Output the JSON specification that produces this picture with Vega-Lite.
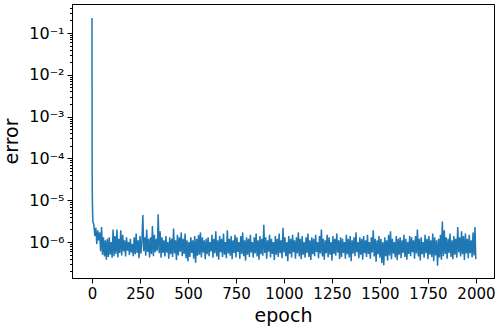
{
  "$schema": "https://vega.github.io/schema/vega-lite/v6.json",
  "autosize": {"type": "none"},
  "width": 422,
  "height": 274,
  "padding": {"left": 72, "top": 4, "right": 4, "bottom": 51},
  "background": "white",
  "config": {
    "font": "DejaVu Sans",
    "view": {"stroke": "black", "strokeWidth": 1},
    "axis": {"grid": false, "domainColor": "black", "tickColor": "black", "labelColor": "black", "titleColor": "black", "labelFont": "DejaVu Sans", "titleFont": "DejaVu Sans", "titleFontWeight": "normal"}
  },
  "data": {"values": [
    {"epoch":0,"error":0.23},{"epoch":1,"error":5e-5},{"epoch":2,"error":1.2e-5},{"epoch":3,"error":6e-6},{"epoch":4,"error":4e-6},{"epoch":5,"error":3e-6},
    {"epoch":10,"error":2.6e-6},{"epoch":15,"error":1.4e-6},{"epoch":20,"error":2.2e-6},{"epoch":25,"error":9e-7},{"epoch":30,"error":1.9e-6},{"epoch":35,"error":1.1e-6},{"epoch":40,"error":1.7e-6},{"epoch":45,"error":6e-7},{"epoch":50,"error":2.3e-6},{"epoch":55,"error":5e-7},
    {"epoch":60,"error":1.3e-6},{"epoch":65,"error":4.5e-7},{"epoch":70,"error":1.1e-6},{"epoch":75,"error":3.8e-7},{"epoch":80,"error":1.2e-6},{"epoch":85,"error":4.4e-7},{"epoch":90,"error":1.3e-6},{"epoch":95,"error":5e-7},{"epoch":100,"error":1.0e-6},{"epoch":105,"error":4.2e-7},
    {"epoch":110,"error":2.0e-6},{"epoch":115,"error":4.6e-7},{"epoch":120,"error":1.4e-6},{"epoch":125,"error":5.2e-7},{"epoch":130,"error":2.0e-6},{"epoch":135,"error":4.3e-7},{"epoch":140,"error":1.2e-6},{"epoch":145,"error":5.5e-7},{"epoch":150,"error":1.9e-6},{"epoch":155,"error":4.8e-7},
    {"epoch":160,"error":1.5e-6},{"epoch":165,"error":6e-7},{"epoch":170,"error":1.1e-6},{"epoch":175,"error":4.5e-7},{"epoch":180,"error":1.3e-6},{"epoch":185,"error":6.2e-7},{"epoch":190,"error":1.0e-6},{"epoch":195,"error":4.9e-7},{"epoch":200,"error":1.2e-6},{"epoch":205,"error":5.6e-7},
    {"epoch":210,"error":9e-7},{"epoch":215,"error":4.6e-7},{"epoch":220,"error":1.3e-6},{"epoch":225,"error":5.1e-7},{"epoch":230,"error":1.6e-6},{"epoch":235,"error":5.5e-7},{"epoch":240,"error":1.1e-6},{"epoch":245,"error":4.1e-7},{"epoch":250,"error":1.4e-6},{"epoch":255,"error":5.3e-7},
    {"epoch":260,"error":1.0e-6},{"epoch":265,"error":4.4e-6},{"epoch":270,"error":6e-7},{"epoch":275,"error":1.3e-6},{"epoch":280,"error":4.7e-7},{"epoch":285,"error":2.0e-6},{"epoch":290,"error":5.8e-7},{"epoch":295,"error":1.2e-6},{"epoch":300,"error":4.3e-7},{"epoch":305,"error":1.3e-6},
    {"epoch":310,"error":5.2e-7},{"epoch":315,"error":2.4e-6},{"epoch":320,"error":4.6e-7},{"epoch":325,"error":1.5e-6},{"epoch":330,"error":5.7e-7},{"epoch":335,"error":1.2e-6},{"epoch":340,"error":6.2e-7},{"epoch":345,"error":4.6e-6},{"epoch":350,"error":5.4e-7},{"epoch":355,"error":1.8e-6},
    {"epoch":360,"error":4.2e-7},{"epoch":365,"error":1.3e-6},{"epoch":370,"error":5.5e-7},{"epoch":375,"error":1.1e-6},{"epoch":380,"error":4.5e-7},{"epoch":385,"error":1.4e-6},{"epoch":390,"error":5.6e-7},{"epoch":395,"error":1.0e-6},{"epoch":400,"error":4.0e-7},{"epoch":405,"error":1.3e-6},
    {"epoch":410,"error":5.1e-7},{"epoch":415,"error":1.2e-6},{"epoch":420,"error":4.4e-7},{"epoch":425,"error":2.1e-6},{"epoch":430,"error":5.3e-7},{"epoch":435,"error":1.1e-6},{"epoch":440,"error":3.7e-7},{"epoch":445,"error":1.5e-6},{"epoch":450,"error":4.8e-7},{"epoch":455,"error":1.3e-6},
    {"epoch":460,"error":5.9e-7},{"epoch":465,"error":1.7e-6},{"epoch":470,"error":4.6e-7},{"epoch":475,"error":1.2e-6},{"epoch":480,"error":5.2e-7},{"epoch":485,"error":1.6e-6},{"epoch":490,"error":4.1e-7},{"epoch":495,"error":1.1e-6},{"epoch":500,"error":3.5e-7},{"epoch":505,"error":1.0e-6},
    {"epoch":510,"error":4.4e-7},{"epoch":515,"error":1.3e-6},{"epoch":520,"error":5.5e-7},{"epoch":525,"error":1.1e-6},{"epoch":530,"error":4.0e-7},{"epoch":535,"error":1.4e-6},{"epoch":540,"error":3.2e-7},{"epoch":545,"error":1.2e-6},{"epoch":550,"error":4.7e-7},{"epoch":555,"error":1.5e-6},
    {"epoch":560,"error":5.0e-7},{"epoch":565,"error":1.7e-6},{"epoch":570,"error":4.3e-7},{"epoch":575,"error":1.3e-6},{"epoch":580,"error":5.6e-7},{"epoch":585,"error":1.1e-6},{"epoch":590,"error":3.9e-7},{"epoch":595,"error":1.2e-6},
    {"epoch":600,"error":5.1e-7},{"epoch":605,"error":1.3e-6},{"epoch":610,"error":4.6e-7},{"epoch":615,"error":1.0e-6},{"epoch":620,"error":6.0e-7},{"epoch":625,"error":1.5e-6},{"epoch":630,"error":4.2e-7},{"epoch":635,"error":1.2e-6},{"epoch":640,"error":5.4e-7},{"epoch":645,"error":1.8e-6},
    {"epoch":650,"error":4.5e-7},{"epoch":655,"error":1.1e-6},{"epoch":660,"error":3.8e-7},{"epoch":665,"error":1.4e-6},{"epoch":670,"error":5.7e-7},{"epoch":675,"error":1.2e-6},{"epoch":680,"error":4.4e-7},{"epoch":685,"error":1.6e-6},{"epoch":690,"error":5.0e-7},{"epoch":695,"error":1.0e-6},
    {"epoch":700,"error":4.1e-7},{"epoch":705,"error":1.9e-6},{"epoch":710,"error":5.3e-7},{"epoch":715,"error":1.2e-6},{"epoch":720,"error":4.7e-7},{"epoch":725,"error":1.4e-6},{"epoch":730,"error":3.9e-7},{"epoch":735,"error":1.1e-6},{"epoch":740,"error":5.5e-7},{"epoch":745,"error":1.5e-6},
    {"epoch":750,"error":4.3e-7},{"epoch":755,"error":1.3e-6},{"epoch":760,"error":5.8e-7},{"epoch":765,"error":1.0e-6},{"epoch":770,"error":4.0e-7},{"epoch":775,"error":1.4e-6},{"epoch":780,"error":5.2e-7},{"epoch":785,"error":1.7e-6},{"epoch":790,"error":4.6e-7},{"epoch":795,"error":1.1e-6},
    {"epoch":800,"error":3.6e-7},{"epoch":805,"error":1.3e-6},{"epoch":810,"error":5.0e-7},{"epoch":815,"error":1.2e-6},{"epoch":820,"error":4.4e-7},{"epoch":825,"error":1.5e-6},{"epoch":830,"error":5.6e-7},{"epoch":835,"error":1.0e-6},{"epoch":840,"error":4.2e-7},{"epoch":845,"error":1.3e-6},
    {"epoch":850,"error":5.3e-7},{"epoch":855,"error":1.6e-6},{"epoch":860,"error":4.5e-7},{"epoch":865,"error":1.1e-6},{"epoch":870,"error":3.8e-7},{"epoch":875,"error":1.4e-6},{"epoch":880,"error":5.1e-7},{"epoch":885,"error":1.2e-6},{"epoch":890,"error":4.7e-7},{"epoch":895,"error":2.6e-6},
    {"epoch":900,"error":5.5e-7},{"epoch":905,"error":1.3e-6},{"epoch":910,"error":4.0e-7},{"epoch":915,"error":1.1e-6},{"epoch":920,"error":5.9e-7},{"epoch":925,"error":1.5e-6},{"epoch":930,"error":4.3e-7},{"epoch":935,"error":1.2e-6},{"epoch":940,"error":5.2e-7},{"epoch":945,"error":1.0e-6},
    {"epoch":950,"error":3.7e-7},{"epoch":955,"error":1.4e-6},{"epoch":960,"error":5.0e-7},{"epoch":965,"error":1.2e-6},{"epoch":970,"error":4.4e-7},{"epoch":975,"error":1.6e-6},{"epoch":980,"error":5.4e-7},{"epoch":985,"error":1.1e-6},{"epoch":990,"error":4.1e-7},{"epoch":995,"error":2.2e-6},
    {"epoch":1000,"error":5.6e-7},{"epoch":1005,"error":1.3e-6},{"epoch":1010,"error":4.6e-7},{"epoch":1015,"error":1.0e-6},{"epoch":1020,"error":3.5e-7},{"epoch":1025,"error":1.4e-6},{"epoch":1030,"error":5.2e-7},{"epoch":1035,"error":1.2e-6},{"epoch":1040,"error":4.3e-7},{"epoch":1045,"error":1.5e-6},
    {"epoch":1050,"error":5.7e-7},{"epoch":1055,"error":1.1e-6},{"epoch":1060,"error":4.0e-7},{"epoch":1065,"error":1.3e-6},{"epoch":1070,"error":5.3e-7},{"epoch":1075,"error":1.7e-6},{"epoch":1080,"error":4.5e-7},{"epoch":1085,"error":1.2e-6},{"epoch":1090,"error":3.9e-7},{"epoch":1095,"error":1.4e-6},
    {"epoch":1100,"error":5.0e-7},{"epoch":1105,"error":1.0e-6},{"epoch":1110,"error":4.2e-7},{"epoch":1115,"error":1.3e-6},{"epoch":1120,"error":5.5e-7},{"epoch":1125,"error":1.6e-6},{"epoch":1130,"error":4.4e-7},{"epoch":1135,"error":1.1e-6},{"epoch":1140,"error":3.7e-7},{"epoch":1145,"error":1.3e-6},
    {"epoch":1150,"error":5.1e-7},{"epoch":1155,"error":1.2e-6},{"epoch":1160,"error":4.6e-7},{"epoch":1165,"error":1.5e-6},{"epoch":1170,"error":5.8e-7},{"epoch":1175,"error":1.0e-6},{"epoch":1180,"error":4.1e-7},{"epoch":1185,"error":1.4e-6},{"epoch":1190,"error":5.3e-7},{"epoch":1195,"error":2.0e-6},
    {"epoch":1200,"error":4.5e-7},{"epoch":1205,"error":1.2e-6},{"epoch":1210,"error":3.8e-7},{"epoch":1215,"error":1.1e-6},{"epoch":1220,"error":5.4e-7},{"epoch":1225,"error":1.5e-6},{"epoch":1230,"error":4.3e-7},{"epoch":1235,"error":1.3e-6},{"epoch":1240,"error":5.0e-7},{"epoch":1245,"error":1.0e-6},
    {"epoch":1250,"error":3.6e-7},{"epoch":1255,"error":1.4e-6},{"epoch":1260,"error":5.2e-7},{"epoch":1265,"error":1.2e-6},{"epoch":1270,"error":4.7e-7},{"epoch":1275,"error":1.6e-6},{"epoch":1280,"error":5.6e-7},{"epoch":1285,"error":1.1e-6},{"epoch":1290,"error":3.9e-7},{"epoch":1295,"error":1.3e-6},
    {"epoch":1300,"error":4.4e-7},{"epoch":1305,"error":1.2e-6},{"epoch":1310,"error":5.5e-7},{"epoch":1315,"error":1.0e-6},{"epoch":1320,"error":4.0e-7},{"epoch":1325,"error":1.5e-6},{"epoch":1330,"error":5.1e-7},{"epoch":1335,"error":1.2e-6},{"epoch":1340,"error":4.3e-7},{"epoch":1345,"error":1.4e-6},
    {"epoch":1350,"error":3.5e-7},{"epoch":1355,"error":1.1e-6},{"epoch":1360,"error":5.3e-7},{"epoch":1365,"error":1.3e-6},{"epoch":1370,"error":4.6e-7},{"epoch":1375,"error":1.7e-6},{"epoch":1380,"error":5.7e-7},{"epoch":1385,"error":1.0e-6},{"epoch":1390,"error":4.1e-7},{"epoch":1395,"error":1.3e-6},
    {"epoch":1400,"error":5.0e-7},{"epoch":1405,"error":1.2e-6},{"epoch":1410,"error":3.8e-7},{"epoch":1415,"error":1.4e-6},{"epoch":1420,"error":5.4e-7},{"epoch":1425,"error":1.1e-6},{"epoch":1430,"error":4.4e-7},{"epoch":1435,"error":1.5e-6},{"epoch":1440,"error":5.2e-7},{"epoch":1445,"error":1.0e-6},
    {"epoch":1450,"error":4.0e-7},{"epoch":1455,"error":1.3e-6},{"epoch":1460,"error":5.6e-7},{"epoch":1465,"error":1.9e-6},{"epoch":1470,"error":4.5e-7},{"epoch":1475,"error":1.2e-6},{"epoch":1480,"error":3.4e-7},{"epoch":1485,"error":1.1e-6},{"epoch":1490,"error":5.1e-7},{"epoch":1495,"error":1.4e-6},
    {"epoch":1500,"error":4.2e-7},{"epoch":1505,"error":1.2e-6},{"epoch":1510,"error":3.1e-7},{"epoch":1515,"error":1.0e-6},{"epoch":1520,"error":2.8e-7},{"epoch":1525,"error":1.3e-6},{"epoch":1530,"error":4.6e-7},{"epoch":1535,"error":1.1e-6},{"epoch":1540,"error":3.6e-7},{"epoch":1545,"error":1.5e-6},
    {"epoch":1550,"error":4.8e-7},{"epoch":1555,"error":1.8e-6},{"epoch":1560,"error":3.9e-7},{"epoch":1565,"error":1.2e-6},{"epoch":1570,"error":5.3e-7},{"epoch":1575,"error":1.0e-6},{"epoch":1580,"error":4.3e-7},{"epoch":1585,"error":1.4e-6},{"epoch":1590,"error":3.7e-7},{"epoch":1595,"error":1.2e-6},
    {"epoch":1600,"error":5.0e-7},{"epoch":1605,"error":1.3e-6},{"epoch":1610,"error":4.1e-7},{"epoch":1615,"error":1.1e-6},{"epoch":1620,"error":5.5e-7},{"epoch":1625,"error":1.5e-6},{"epoch":1630,"error":4.4e-7},{"epoch":1635,"error":1.2e-6},{"epoch":1640,"error":3.8e-7},{"epoch":1645,"error":1.0e-6},
    {"epoch":1650,"error":5.2e-7},{"epoch":1655,"error":1.4e-6},{"epoch":1660,"error":4.6e-7},{"epoch":1665,"error":1.3e-6},{"epoch":1670,"error":5.7e-7},{"epoch":1675,"error":1.1e-6},{"epoch":1680,"error":4.0e-7},{"epoch":1685,"error":1.4e-6},{"epoch":1690,"error":5.3e-7},{"epoch":1695,"error":2.0e-6},
    {"epoch":1700,"error":4.5e-7},{"epoch":1705,"error":1.2e-6},{"epoch":1710,"error":3.6e-7},{"epoch":1715,"error":1.3e-6},{"epoch":1720,"error":5.1e-7},{"epoch":1725,"error":1.0e-6},{"epoch":1730,"error":4.2e-7},{"epoch":1735,"error":1.5e-6},{"epoch":1740,"error":5.4e-7},{"epoch":1745,"error":1.2e-6},
    {"epoch":1750,"error":3.9e-7},{"epoch":1755,"error":1.4e-6},{"epoch":1760,"error":5.0e-7},{"epoch":1765,"error":1.1e-6},{"epoch":1770,"error":4.4e-7},{"epoch":1775,"error":1.6e-6},{"epoch":1780,"error":3.5e-7},{"epoch":1785,"error":1.3e-6},{"epoch":1790,"error":4.8e-7},{"epoch":1795,"error":1.1e-6},
    {"epoch":1800,"error":2.7e-7},{"epoch":1805,"error":1.2e-6},{"epoch":1810,"error":4.3e-7},{"epoch":1815,"error":1.5e-6},{"epoch":1820,"error":3.8e-7},{"epoch":1825,"error":3.1e-6},{"epoch":1830,"error":4.6e-7},{"epoch":1835,"error":1.9e-6},{"epoch":1840,"error":5.2e-7},{"epoch":1845,"error":1.3e-6},
    {"epoch":1850,"error":4.0e-7},{"epoch":1855,"error":1.2e-6},{"epoch":1860,"error":5.5e-7},{"epoch":1865,"error":1.6e-6},{"epoch":1870,"error":4.4e-7},{"epoch":1875,"error":1.1e-6},{"epoch":1880,"error":3.9e-7},{"epoch":1885,"error":1.4e-6},{"epoch":1890,"error":5.0e-7},{"epoch":1895,"error":1.2e-6},
    {"epoch":1900,"error":4.2e-7},{"epoch":1905,"error":2.3e-6},{"epoch":1910,"error":5.6e-7},{"epoch":1915,"error":1.3e-6},{"epoch":1920,"error":4.5e-7},{"epoch":1925,"error":1.8e-6},{"epoch":1930,"error":5.1e-7},{"epoch":1935,"error":1.4e-6},{"epoch":1940,"error":3.7e-7},{"epoch":1945,"error":1.6e-6},
    {"epoch":1950,"error":5.3e-7},{"epoch":1955,"error":1.2e-6},{"epoch":1960,"error":4.1e-7},{"epoch":1965,"error":1.5e-6},{"epoch":1970,"error":5.4e-7},{"epoch":1975,"error":1.1e-6},{"epoch":1980,"error":4.3e-7},{"epoch":1985,"error":1.7e-6},{"epoch":1990,"error":4.8e-7},{"epoch":1995,"error":2.3e-6},{"epoch":1999,"error":3.9e-7}
  ]},
  "mark": {"type": "line", "color": "#1f77b4", "strokeWidth": 1.5, "clip": true},
  "encoding": {
    "x": {
      "field": "epoch", "type": "quantitative",
      "scale": {"domain": [-104, 2094], "nice": false, "zero": false},
      "axis": {"values": [0, 250, 500, 750, 1000, 1250, 1500, 1750, 2000], "format": "d", "labelFontSize": 15, "tickSize": 5, "labelPadding": 3, "title": "epoch", "titleFontSize": 19, "titlePadding": 5, "labelFlush": false}
    },
    "y": {
      "field": "error", "type": "quantitative",
      "scale": {"type": "log", "domain": [1.38e-7, 0.494], "nice": false},
      "axis": {
        "values": [2e-7, 3e-7, 4e-7, 5e-7, 6e-7, 7e-7, 8e-7, 9e-7, 1e-6, 2e-6, 3e-6, 4e-6, 5e-6, 6e-6, 7e-6, 8e-6, 9e-6, 1e-5, 2e-5, 3e-5, 4e-5, 5e-5, 6e-5, 7e-5, 8e-5, 9e-5, 1e-4, 2e-4, 3e-4, 4e-4, 5e-4, 6e-4, 7e-4, 8e-4, 9e-4, 1e-3, 2e-3, 3e-3, 4e-3, 5e-3, 6e-3, 7e-3, 8e-3, 9e-3, 1e-2, 2e-2, 3e-2, 4e-2, 5e-2, 6e-2, 7e-2, 8e-2, 9e-2, 1e-1, 2e-1, 3e-1, 4e-1],
        "labelExpr": "datum.value == 0.1 ? '10⁻¹' : datum.value == 0.01 ? '10⁻²' : datum.value == 0.001 ? '10⁻³' : datum.value == 0.0001 ? '10⁻⁴' : datum.value == 0.00001 ? '10⁻⁵' : datum.value == 0.000001 ? '10⁻⁶' : ''",
        "tickSize": {"condition": {"test": "indexof([0.1, 0.01, 0.001, 0.0001, 0.00001, 0.000001], datum.value) >= 0", "value": 5}, "value": 2.5},
        "labelFontSize": 16, "labelPadding": 3, "labelFlush": false, "labelOverlap": false,
        "title": "error", "titleFontSize": 19, "titlePadding": 7
      }
    }
  }
}
